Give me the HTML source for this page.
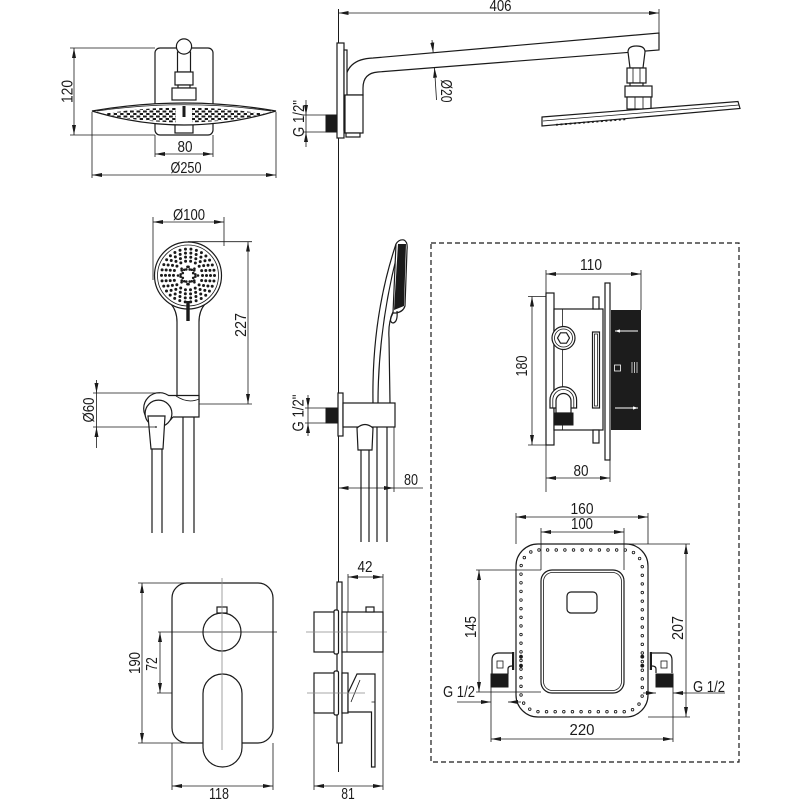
<!DOCTYPE html>
<html><head><meta charset="utf-8"><style>
html,body{margin:0;padding:0;background:#fff}
svg{display:block}
.o{fill:#fff;stroke:#1a1a1a;stroke-width:1.2}
.n{fill:none;stroke:#1a1a1a;stroke-width:1.2}
.t{fill:none;stroke:#1a1a1a;stroke-width:0.8}
.g{fill:none;stroke:#8a8a8a;stroke-width:0.8}
.k{fill:#1a1a1a;stroke:#1a1a1a;stroke-width:1}
.m{marker-start:url(#a);marker-end:url(#a)}
.e{marker-end:url(#a)}
text{font-family:"Liberation Sans Narrow","Liberation Sans",sans-serif;font-size:16px;fill:#1a1a1a}
</style></head><body>
<svg width="800" height="800" viewBox="0 0 800 800" xmlns="http://www.w3.org/2000/svg">
<defs>
<marker id="a" viewBox="0 0 10 4" refX="10" refY="2" markerWidth="10" markerHeight="4" markerUnits="userSpaceOnUse" orient="auto-start-reverse"><path d="M0,0L10,2L0,4Z" fill="#1a1a1a"/></marker>
<marker id="w" viewBox="0 0 6 4" refX="6" refY="2" markerWidth="5" markerHeight="3.5" markerUnits="userSpaceOnUse" orient="auto-start-reverse"><path d="M0,0L6,2L0,4Z" fill="#fff"/></marker>
<pattern id="pd" width="6.5" height="5" patternUnits="userSpaceOnUse"><rect x="0" y="0.5" width="3.8" height="2" fill="#1a1a1a"/><rect x="3.2" y="3" width="3.8" height="2" fill="#1a1a1a"/></pattern>
</defs>

<!-- ============ TOP LEFT: shower head front ============ -->
<path class="t" d="M70,48H155M70,135H155"/>
<path class="t m" d="M74,48V135"/>
<text transform="translate(72.5,91.5) rotate(-90)" text-anchor="middle" textLength="23" lengthAdjust="spacingAndGlyphs">120</text>
<rect class="o" x="155" y="48" width="58" height="87" rx="5"/>
<rect class="o" x="177.5" y="52" width="13" height="20"/>
<circle class="o" cx="184" cy="46.5" r="7.6"/>
<rect class="o" x="175" y="72" width="18" height="13"/>
<rect class="o" x="178" y="85" width="12" height="3"/>
<rect class="o" x="172" y="88" width="24" height="12"/>
<rect class="o" x="175" y="121" width="18" height="12"/>
<path class="o" d="M92,111 Q184,95 276,111 Q184,139 92,111Z"/>
<path class="t" d="M97,111 Q184,98.5 271,111"/>
<path fill="url(#pd)" d="M102,114 Q184,101 266,114 Q184,131 102,114Z"/>
<rect x="176" y="108" width="16" height="16" fill="#fff"/>
<rect x="182.5" y="106" width="3" height="11" fill="#1a1a1a"/>
<path class="t" d="M155,135V157M213,135V157"/>
<path class="t m" d="M155,154H213"/>
<text x="185" y="152" text-anchor="middle" textLength="15" lengthAdjust="spacingAndGlyphs">80</text>
<path class="t" d="M92,112V178M276,112V178"/>
<path class="t m" d="M92,175H276"/>
<text x="186" y="173" text-anchor="middle" textLength="31" lengthAdjust="spacingAndGlyphs">Ø250</text>

<!-- ============ main wall line ============ -->
<path class="n" d="M338.5,9V772" style="stroke-width:1"/>

<!-- ============ TOP RIGHT: shower arm side ============ -->
<path class="t" d="M659,9V50"/>
<path class="t m" d="M338.5,13H659"/>
<text x="500.5" y="11" text-anchor="middle" textLength="22" lengthAdjust="spacingAndGlyphs">406</text>
<path class="o" d="M345,95 V84 Q345,59 373,58 L659,33 V50 L378,72 Q363,73 363,88 V95 Z"/>
<rect class="o" x="337" y="43" width="7" height="95"/>
<rect class="o" x="344" y="50" width="3" height="80"/>
<rect class="o" x="345" y="95" width="18" height="38"/>
<rect class="o" x="346" y="133" width="14" height="4"/>
<rect class="k" x="326" y="115" width="11" height="17"/>
<path class="t" d="M303,115H326M303,132H326M306,115V132"/>
<path class="t e" d="M306,100V115"/>
<path class="t e" d="M306,147V132"/>
<text transform="translate(304,118.5) rotate(-90)" text-anchor="middle" textLength="37" lengthAdjust="spacingAndGlyphs">G 1/2&quot;</text>
<path class="t e" d="M432,40L433.2,52.6"/>
<path class="t e" d="M436.5,100L434.5,67.8"/>
<text transform="translate(441,91) rotate(90)" text-anchor="middle" textLength="23" lengthAdjust="spacingAndGlyphs">Ø20</text>
<path class="o" d="M628,52 Q628,46 636.5,46 Q645,46 645,52 L643,68 L630,68 Z"/>
<rect class="o" x="627" y="68" width="19" height="15"/>
<path class="t" d="M633,68V83M640,68V83"/>
<rect class="o" x="630" y="83" width="13" height="3"/>
<rect class="o" x="625" y="86" width="27" height="11"/>
<rect class="o" x="627" y="97" width="24" height="12"/>
<path class="t" d="M635,97V109M643,97V109"/>
<path class="o" d="M542,117 L738,101.5 L740,108.5 L542,126 Z"/>
<path class="t" d="M543,121 L739,105"/>
<path d="M556,124.8 L626,119.2" stroke="#1a1a1a" stroke-width="1.8" stroke-dasharray="2 2.5" fill="none"/>

<!-- ============ HAND SHOWER FRONT ============ -->
<path class="t" d="M153,217V280M224,217V246"/>
<path class="t m" d="M153,222H224"/>
<text x="189" y="220" text-anchor="middle" textLength="32" lengthAdjust="spacingAndGlyphs">Ø100</text>
<path class="n" d="M171,304 Q177,311 177,322 V402"/>
<path class="n" d="M205,304 Q199,311 199,322 V402"/>
<circle class="o" cx="188" cy="275.5" r="33.5"/>
<circle class="t" cx="188" cy="275.5" r="30.5"/>
<g fill="none" stroke="#1a1a1a" stroke-width="3" stroke-linecap="round">
<circle cx="188" cy="275.5" r="26.5" stroke-dasharray="0 5.55"/>
<circle cx="188" cy="275.5" r="22.5" stroke-dasharray="0 5.437"/>
<circle cx="188" cy="275.5" r="18.5" stroke-dasharray="0 5.284"/>
<circle cx="188" cy="275.5" r="14.5" stroke-dasharray="0 5.061"/>
<polygon stroke-width="2.6" stroke-dasharray="0 2.853" points="198,275.5 193.08,277.61 195.07,282.57 190.11,280.58 188,285.5 185.89,280.58 180.93,282.57 182.92,277.61 178,275.5 182.92,273.39 180.93,268.43 185.89,270.42 188,265.5 190.11,270.42 195.07,268.43 193.08,273.39"/>
</g>
<rect x="186.3" y="301" width="3.4" height="20" fill="#1a1a1a"/>
<path class="t" d="M188,241.7H252M199,404H252"/>
<path class="t m" d="M248,241.7V404"/>
<text transform="translate(246,325) rotate(-90)" text-anchor="middle" textLength="24" lengthAdjust="spacingAndGlyphs">227</text>
<circle class="o" cx="159.5" cy="408.5" r="15.8"/>
<rect x="168.5" y="395.5" width="30.5" height="21.5" fill="#fff"/>
<path class="n" d="M168.5,395.5 H199 V417 H172.8"/>
<path class="t" d="M176,396 Q188,404 199,399"/>
<circle class="o" cx="158.5" cy="413.5" r="13.4"/>
<path class="o" d="M148,416 H165 L163,449 H151 Z"/>
<circle cx="156" cy="427" r="0.9" fill="#1a1a1a"/>
<path class="n" d="M152,449V533M162,449V533M183,417V533M194,417V533"/>
<path class="t" d="M93,393H160M93,427H156M96.5,393V427"/>
<path class="t e" d="M96.5,380V393"/>
<path class="t e" d="M96.5,448V427"/>
<text transform="translate(94,410) rotate(-90)" text-anchor="middle" textLength="25" lengthAdjust="spacingAndGlyphs">Ø60</text>

<!-- ============ HAND SHOWER SIDE ============ -->
<path class="n" d="M373,403 C372,345 380,292 396,244"/>
<path class="n" d="M378,403 C378,350 385,300 399,247"/>
<path class="n" d="M390,403 L389,338 Q388,322 393,313"/>
<path class="o" d="M396,244 Q399,239 404,240 Q408,242 407,250 L405,306 Q403,312 396,313 L393,313 Z"/>
<polygon points="398,244 406,244 404,306 394,310" fill="#1a1a1a"/>
<path class="n" d="M393,312 Q388,322 393,323 Q398,322 397,311"/>
<rect class="o" x="338" y="393" width="5" height="43"/>
<rect class="k" x="326" y="408" width="12" height="15"/>
<path class="t" d="M305,408H326M305,423H326M308,408V423"/>
<path class="t e" d="M308,395V408"/>
<path class="t e" d="M308,436V423"/>
<text transform="translate(303.5,413) rotate(-90)" text-anchor="middle" textLength="37" lengthAdjust="spacingAndGlyphs">G 1/2&quot;</text>
<rect class="o" x="343" y="403" width="52" height="24"/>
<path class="o" d="M357,428 Q365,421 373,428 L372,450 L358,450 Z"/>
<path class="n" d="M361,450V542M369,450V542M377,427V542M387,427V542"/>
<path class="t" d="M394,427V492M394,488H423"/>
<path class="t m" d="M338.5,488H394"/>
<text x="411" y="485" text-anchor="middle" textLength="14" lengthAdjust="spacingAndGlyphs">80</text>

<!-- ============ DASHED BOX ============ -->
<rect x="431" y="243" width="308" height="519" fill="none" stroke="#1a1a1a" stroke-width="1.2" stroke-dasharray="5 3"/>

<!-- ============ MIXER BOX SIDE ============ -->
<path class="t" d="M546,270V492M641,270V310"/>
<path class="t m" d="M546,274H641"/>
<text x="591" y="270" text-anchor="middle" textLength="22" lengthAdjust="spacingAndGlyphs">110</text>
<path class="t" d="M528,296.5H554M528,445H554"/>
<path class="t m" d="M532,296.5V445"/>
<text transform="translate(527,366) rotate(-90)" text-anchor="middle" textLength="21" lengthAdjust="spacingAndGlyphs">180</text>
<rect class="o" x="546" y="293" width="8" height="152"/>
<rect class="o" x="554" y="309" width="49" height="121"/>
<rect class="o" x="593" y="297" width="6" height="12"/>
<rect class="o" x="593" y="430" width="6" height="13"/>
<rect class="o" x="605" y="283" width="5" height="177"/>
<path class="t" d="M562.5,309V430"/>
<rect class="o" x="592.5" y="332" width="7" height="76"/>
<rect class="t" x="594.5" y="334" width="3" height="72"/>
<circle class="o" cx="563.5" cy="338" r="11.5"/>
<circle class="t" cx="563.5" cy="338" r="9"/>
<polygon class="n" points="569.5,338 566.5,343.2 560.5,343.2 557.5,338 560.5,332.8 566.5,332.8"/>
<path class="o" d="M550,408 V400 A13.3,13.3 0 0 1 576.6,400 V408 Z"/>
<path class="t" d="M552.8,408 V400 A10.5,10.5 0 0 1 573.8,400 V408"/>
<path class="o" d="M556,413 V401 A7.5,7.5 0 0 1 571,401 V413 Z"/>
<rect class="k" x="554" y="413" width="19" height="12"/>
<rect x="611" y="310" width="30" height="120" fill="#1c1c1c"/>
<path d="M615,331H638M615,408H638" stroke="#fff" stroke-width="0.9" fill="none" marker-start="url(#w)" marker-end="url(#w)"/>
<rect x="614.5" y="365" width="6" height="6" fill="none" stroke="#fff" stroke-width="0.8"/>
<path d="M632,362V373M634.5,362V373M637,362V373" stroke="#fff" stroke-width="0.7"/>
<path class="t" d="M610,460V482"/>
<path class="t m" d="M546,478H610"/>
<text x="581" y="476" text-anchor="middle" textLength="15" lengthAdjust="spacingAndGlyphs">80</text>

<!-- ============ INSTALLATION BOX FRONT ============ -->
<rect class="o" x="516" y="544" width="132" height="173" rx="22"/>
<rect x="521" y="550" width="121.3" height="161.7" rx="18" fill="none" stroke="#1a1a1a" stroke-width="3.4" stroke-linecap="round" stroke-dasharray="0 8.63"/>
<rect x="521" y="550" width="121.3" height="161.7" rx="18" fill="none" stroke="#fff" stroke-width="1.7" stroke-linecap="round" stroke-dasharray="0 8.63"/>
<circle cx="521" cy="656.7" r="1.9" fill="#1a1a1a"/>
<circle cx="521" cy="665.7" r="1.9" fill="#1a1a1a"/>
<circle cx="642.3" cy="656.7" r="1.9" fill="#1a1a1a"/>
<circle cx="642.3" cy="665.7" r="1.9" fill="#1a1a1a"/>
<rect class="o" x="541" y="570" width="83" height="123" rx="11"/>
<rect class="t" x="543.5" y="572.5" width="78" height="118" rx="9"/>
<rect class="o" x="567" y="592" width="30" height="21" rx="4"/>
<path class="n" d="M492,674V660Q492,653 499,653H513"/>
<path class="n" d="M508,674V669Q508,666 512,666"/>
<rect class="t" x="497" y="661" width="6" height="7"/>
<rect class="k" x="491" y="674" width="17" height="13"/>
<rect x="512" y="652" width="2.2" height="18" fill="#1a1a1a"/>
<path class="n" d="M672,673V660Q672,653 665,653H651"/>
<path class="n" d="M656,673V669Q656,666 652,666"/>
<rect class="t" x="661" y="661" width="6" height="7"/>
<rect class="k" x="656" y="674" width="17" height="13"/>
<rect x="649.8" y="652" width="2.2" height="18" fill="#1a1a1a"/>
<path class="t" d="M516,513V544M648,513V544M541,528V570M624,528V570"/>
<path class="t m" d="M516,517H648"/>
<text x="582" y="514" text-anchor="middle" textLength="23" lengthAdjust="spacingAndGlyphs">160</text>
<path class="t m" d="M541,532H624"/>
<text x="582" y="529" text-anchor="middle" textLength="22" lengthAdjust="spacingAndGlyphs">100</text>
<path class="t" d="M476,570H541M476,692H541"/>
<path class="t m" d="M479,570V692"/>
<text transform="translate(476,627) rotate(-90)" text-anchor="middle" textLength="22" lengthAdjust="spacingAndGlyphs">145</text>
<path class="t" d="M618,544H690M648,717H690"/>
<path class="t m" d="M686,544V717"/>
<text transform="translate(683,628) rotate(-90)" text-anchor="middle" textLength="24" lengthAdjust="spacingAndGlyphs">207</text>
<path class="t" d="M491,687V742M673,687V742"/>
<path class="t m" d="M491,739H673"/>
<text x="582" y="735" text-anchor="middle" textLength="25" lengthAdjust="spacingAndGlyphs">220</text>
<text x="459" y="697" text-anchor="middle" textLength="32" lengthAdjust="spacingAndGlyphs">G 1/2</text>
<path class="t e" d="M457,702H491"/>
<path class="t e" d="M521,702H508"/>
<text x="709" y="692" text-anchor="middle" textLength="32" lengthAdjust="spacingAndGlyphs">G 1/2</text>
<path class="t e" d="M725,693H673"/>
<path class="t e" d="M643,693H656"/>

<!-- ============ MIXER FRONT ============ -->
<path class="t" d="M138,583H187M138,743H205"/>
<path class="t m" d="M142,583V743"/>
<text transform="translate(140,663) rotate(-90)" text-anchor="middle" textLength="22" lengthAdjust="spacingAndGlyphs">190</text>
<path class="t" d="M157,693H203"/>
<path class="t m" d="M160,632V693"/>
<text transform="translate(157,664) rotate(-90)" text-anchor="middle" textLength="13.5" lengthAdjust="spacingAndGlyphs">72</text>
<rect class="o" x="172" y="583" width="101" height="160" rx="15"/>
<rect class="o" x="217" y="607" width="10" height="6"/>
<circle class="o" cx="222" cy="632" r="19"/>
<path class="t" d="M158,632H277"/>
<rect class="o" x="203" y="674" width="39" height="93" rx="19.5"/>
<path class="g" d="M222,578V750"/>
<path class="t" d="M172,743V790M273,743V790"/>
<path class="t m" d="M172,786H273"/>
<text x="219" y="799" text-anchor="middle" textLength="20" lengthAdjust="spacingAndGlyphs">118</text>

<!-- ============ MIXER SIDE ============ -->
<rect class="o" x="337" y="582" width="5" height="161"/>
<rect class="o" x="314" y="612" width="21" height="40"/>
<rect class="o" x="334" y="610" width="4.5" height="44" rx="1.5"/>
<rect class="o" x="342" y="612" width="41" height="40"/>
<path class="t" d="M347,612V652"/>
<rect class="o" x="366" y="607" width="8" height="5"/>
<path class="g" d="M306,632H387"/>
<rect class="o" x="314" y="673" width="21" height="40"/>
<rect class="o" x="334" y="671" width="4.5" height="44" rx="1.5"/>
<rect class="o" x="342" y="673" width="6" height="40"/>
<path class="o" d="M348,693 L357,674 H375 V767 H371.5 V712 H348 Z"/>
<path class="t" d="M351,702 L360,680M371.5,702H375"/>
<path class="g" d="M307,693H365"/>
<path class="t" d="M348,574V612M383,574V790"/>
<path class="t m" d="M348,577H383"/>
<text x="365" y="572" text-anchor="middle" textLength="15" lengthAdjust="spacingAndGlyphs">42</text>
<path class="t" d="M314,713V790"/>
<path class="t m" d="M314,786H383"/>
<text x="348" y="799" text-anchor="middle" textLength="13.5" lengthAdjust="spacingAndGlyphs">81</text>
</svg>
</body></html>
